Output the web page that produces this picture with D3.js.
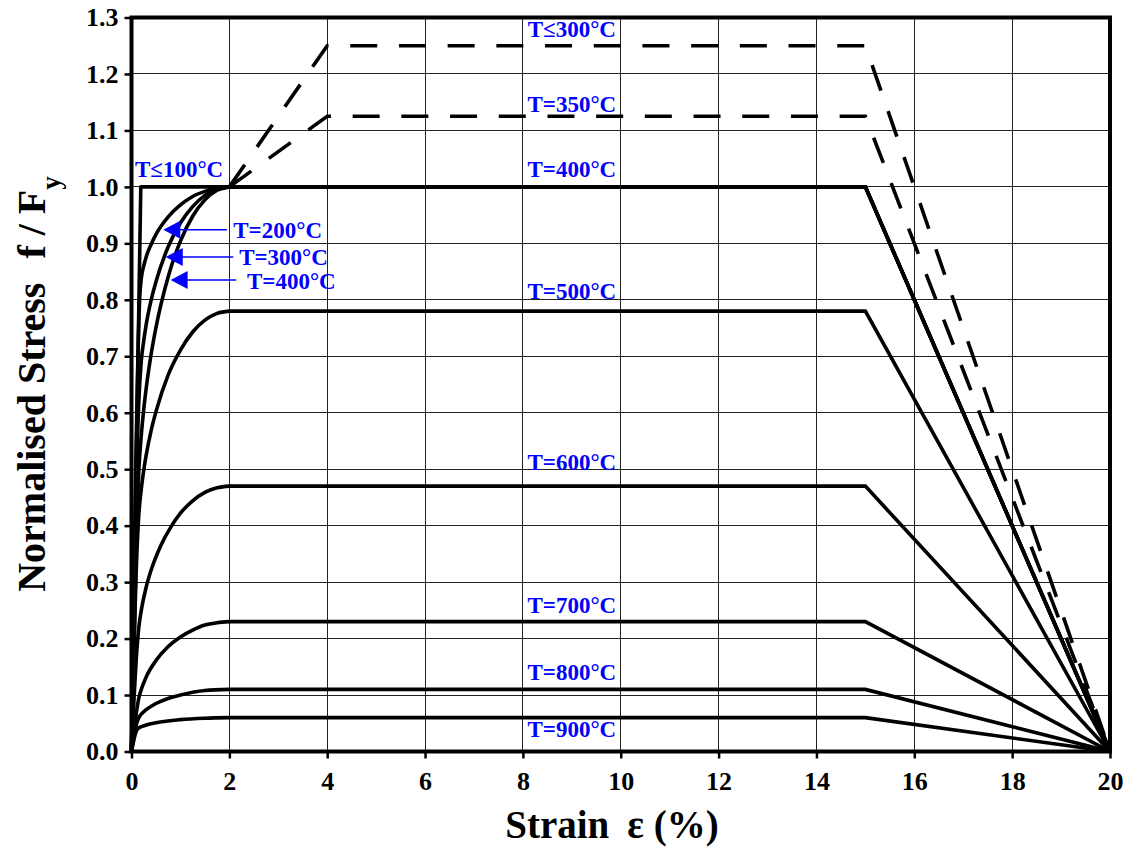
<!DOCTYPE html>
<html>
<head>
<meta charset="utf-8">
<script src="https://cdn.jsdelivr.net/npm/d3@7"></script>
<style>
  html, body { margin: 0; padding: 0; background: #fff; }
  svg { display: block; }
  text { font-family: "Liberation Serif", "Times New Roman", serif; font-weight: bold; }
</style>
</head>
<body>
<svg id="chart" width="1130" height="850"></svg>
<script>
// Axis ticks
const xTicks = [0, 2, 4, 6, 8, 10, 12, 14, 16, 18, 20];
const yTicks = [0, 0.1, 0.2, 0.3, 0.4, 0.5, 0.6, 0.7, 0.8, 0.9, 1.0, 1.1, 1.2, 1.3];

// Plateau end and fracture strain (%) shared by every curve
const plateauEnd = 15;
const fractureStrain = 20;

// Rising branches: strain (%) and normalised stress for each temperature
const strainT100 = [0, 0.19];
const stressT100 = [0, 1.0];

const strainT200 = [0, 0.17, 0.2, 0.25, 0.3, 0.4, 0.5, 0.75, 1.0, 1.25, 1.5, 1.75, 2.0];
const stressT200 = [0, 0.807, 0.838, 0.860, 0.876, 0.898, 0.916, 0.947, 0.968, 0.983, 0.992, 0.998, 1.0];

const strainT300 = [0, 0.146, 0.2, 0.25, 0.3, 0.4, 0.5, 0.75, 1.0, 1.25, 1.5, 1.75, 2.0];
const stressT300 = [0, 0.613, 0.692, 0.727, 0.756, 0.799, 0.832, 0.894, 0.936, 0.965, 0.985, 0.996, 1.0];

const strainT400 = [0, 0.114, 0.15, 0.2, 0.25, 0.3, 0.4, 0.5, 0.75, 1.0, 1.25, 1.5, 1.75, 2.0];
const stressT400 = [0, 0.42, 0.499, 0.560, 0.606, 0.643, 0.703, 0.751, 0.841, 0.904, 0.948, 0.977, 0.994, 1.0];

const strainT500 = [0, 0.114, 0.15, 0.2, 0.25, 0.3, 0.4, 0.5, 0.75, 1.0, 1.25, 1.5, 1.75, 2.0];
const stressT500 = [0, 0.36, 0.420, 0.465, 0.498, 0.525, 0.568, 0.602, 0.667, 0.711, 0.743, 0.764, 0.776, 0.78];

const strainT600 = [0, 0.11, 0.15, 0.2, 0.3, 0.4, 0.6, 0.8, 1.0, 1.25, 1.5, 1.75, 2.0];
const stressT600 = [0, 0.18, 0.220, 0.250, 0.291, 0.321, 0.365, 0.397, 0.422, 0.444, 0.459, 0.467, 0.47];

const strainT700 = [0, 0.11, 0.15, 0.2, 0.3, 0.5, 0.75, 1.0, 1.25, 1.5, 1.75, 2.0];
const stressT700 = [0, 0.075, 0.095, 0.110, 0.132, 0.161, 0.186, 0.203, 0.215, 0.224, 0.228, 0.23];

const strainT800 = [0, 0.106, 0.15, 0.2, 0.3, 0.5, 0.75, 1.0, 1.5, 2.0];
const stressT800 = [0, 0.05, 0.060, 0.066, 0.074, 0.085, 0.094, 0.100, 0.108, 0.11];

const strainT900 = [0, 0.106, 0.15, 0.2, 0.3, 0.5, 1.0, 1.5, 2.0];
const stressT900 = [0, 0.0375, 0.042, 0.044, 0.047, 0.051, 0.0565, 0.059, 0.06];

// Strain-hardening branches (dashed)
const strainHard300 = [2, 4];
const stressHard300 = [1.0, 1.25];
const strainHard350 = [2, 4];
const stressHard350 = [1.0, 1.125];

// Curve labels
const tempLabels = ["T≤300°C", "T=350°C", "T=400°C", "T=500°C", "T=600°C", "T=700°C", "T=800°C", "T=900°C"];
const tempLabelStrain = [9, 9, 9, 9, 9, 9, 9, 9];
const tempLabelStress = [1.266, 1.133, 1.018, 0.801, 0.499, 0.245, 0.127, 0.026];

const arrowLabels = ["T=200°C", "T=300°C", "T=400°C"];
const arrowLabelStrain = [2.08, 2.20, 2.36];
const arrowLabelStress = [0.909, 0.862, 0.820];
const arrowTailStrain = [1.95, 2.08, 2.14];
const arrowTipStrain = [0.65, 0.70, 0.80];
const arrowStress = [0.924, 0.876, 0.835];

const coldLabel = "T≤100°C";
const coldLabelStrain = 0.07;
const coldLabelStress = 1.018;

const zip = (xs, ys) => xs.map((v, i) => [v, ys[i]]);

const solidSeries = [
  zip(strainT100, stressT100),
  zip(strainT200, stressT200),
  zip(strainT300, stressT300),
  zip(strainT400, stressT400),
  zip(strainT500, stressT500),
  zip(strainT600, stressT600),
  zip(strainT700, stressT700),
  zip(strainT800, stressT800),
  zip(strainT900, stressT900)
];
const dashedSeries = [
  zip(strainHard300, stressHard300),
  zip(strainHard350, stressHard350)
];

const svg = d3.select("#chart");
svg.append("rect").attr("width", 1130).attr("height", 850).attr("fill", "#fff");

const x = d3.scaleLinear().domain([0, 20]).range([131.5, 1110]);
const y = d3.scaleLinear().domain([0, 1.3]).range([751.5, 17.5]);

// Grid
const grid = svg.append("g").attr("shape-rendering", "crispEdges");
grid.selectAll("line.v").data(xTicks.slice(1, -1)).join("line")
  .attr("x1", d => x(d)).attr("x2", d => x(d))
  .attr("y1", y(0)).attr("y2", y(1.3))
  .attr("stroke", "#222").attr("stroke-width", 1);
grid.selectAll("line.h").data(yTicks.slice(1, -1)).join("line")
  .attr("x1", x(0)).attr("x2", x(20))
  .attr("y1", d => y(d)).attr("y2", d => y(d))
  .attr("stroke", "#222").attr("stroke-width", 1);

// Curves
const riseLine = d3.line().x(d => x(d[0])).y(d => y(d[1])).curve(d3.curveMonotoneX);
const straight = d3.line().x(d => x(d[0])).y(d => y(d[1]));
const tail = pts => {
  const last = pts[pts.length - 1];
  return [last, [plateauEnd, last[1]], [fractureStrain, 0]];
};

const curves = svg.append("g").attr("fill", "none").attr("stroke", "#000")
  .attr("stroke-width", 3.6).attr("stroke-linejoin", "miter");

solidSeries.forEach(pts => {
  curves.append("path").attr("d", riseLine(pts)).attr("stroke-linecap", "round");
  curves.append("path").attr("d", straight(tail(pts)));
});

dashedSeries.forEach(pts => {
  curves.append("path")
    .attr("d", straight(pts.concat(tail(pts).slice(1))))
    .attr("stroke-dasharray", "27,21.7");
});

// Axes
const xAxis = d3.axisBottom(x).tickValues(xTicks).tickFormat(d3.format("d"))
  .tickSize(7).tickPadding(13);
const yAxis = d3.axisLeft(y).tickValues(yTicks).tickFormat(d3.format(".1f"))
  .tickSize(7).tickPadding(6);

const gx = svg.append("g").attr("transform", `translate(0,${y(0)})`).call(xAxis);
const gy = svg.append("g").attr("transform", `translate(${x(0)},0)`).call(yAxis);
[gx, gy].forEach(g => {
  g.select(".domain").remove();
  g.selectAll(".tick line").attr("stroke", "#000").attr("stroke-width", 2.5);
  g.selectAll(".tick text").attr("fill", "#000")
    .style("font-family", "'Liberation Serif', serif").style("font-weight", "bold")
    .style("font-size", "26px");
});

// Frame
svg.append("rect")
  .attr("x", x(0)).attr("y", y(1.3))
  .attr("width", x(20) - x(0)).attr("height", y(0) - y(1.3))
  .attr("fill", "none").attr("stroke", "#000").attr("stroke-width", 4);

// Temperature labels
const blue = "#0000ff";
const lab = svg.append("g").attr("fill", blue).style("font-size", "23px");
lab.selectAll("text.t").data(tempLabels).join("text")
  .attr("x", (d, i) => x(tempLabelStrain[i]))
  .attr("y", (d, i) => y(tempLabelStress[i]))
  .attr("text-anchor", "middle")
  .text(d => d);

lab.append("text")
  .attr("x", x(coldLabelStrain)).attr("y", y(coldLabelStress))
  .text(coldLabel);

lab.selectAll("text.a").data(arrowLabels).join("text")
  .attr("x", (d, i) => x(arrowLabelStrain[i]))
  .attr("y", (d, i) => y(arrowLabelStress[i]))
  .text(d => d);

// Arrows pointing at the 200/300/400 °C curves
arrowLabels.forEach((d, i) => {
  const yy = y(arrowStress[i]);
  const tip = x(arrowTipStrain[i]);
  svg.append("line")
    .attr("x1", x(arrowTailStrain[i])).attr("x2", tip + 12)
    .attr("y1", yy).attr("y2", yy)
    .attr("stroke", blue).attr("stroke-width", 1.5);
  svg.append("path")
    .attr("d", `M${tip},${yy}L${tip + 17},${yy - 9}L${tip + 17},${yy + 9}Z`)
    .attr("fill", blue);
});

// Axis titles
const xt = svg.append("text")
  .attr("x", 612).attr("y", 838)
  .attr("text-anchor", "middle")
  .style("font-size", "39px").attr("fill", "#000");
xt.append("tspan").text("Strain");
xt.append("tspan").attr("dx", 18).text("ε (%)");

const yt = svg.append("text")
  .attr("transform", "translate(45,384) rotate(-90)")
  .attr("text-anchor", "middle")
  .style("font-size", "40px").attr("fill", "#000");
yt.append("tspan").text("Normalised Stress");
yt.append("tspan").attr("dx", 24).text("f / F");
yt.append("tspan").attr("baseline-shift", "sub").style("font-size", "27px").text("y");
</script>
</body>
</html>
